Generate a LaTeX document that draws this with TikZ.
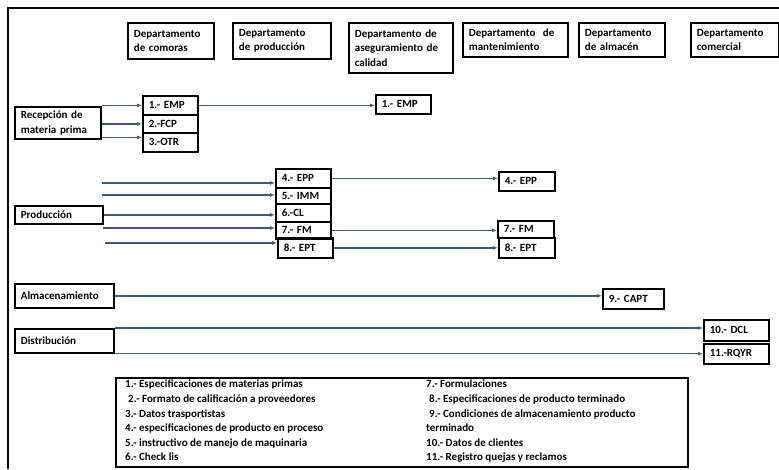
\documentclass[tikz,border=0pt]{standalone}
\usepackage{fontspec}
\setmainfont{Carlito}
\usetikzlibrary{arrows.meta,positioning}
\definecolor{flowblue}{HTML}{3D5A78}
\newcommand\boxfont{\fontsize{11}{14.5}\selectfont\bfseries}
\newcommand\legfont{\fontsize{11}{14.6}\selectfont\bfseries}

\begin{document}
\begin{tikzpicture}[x=1pt, y=-1pt, every node/.style={font=\boxfont},
    docbox/.style={draw, line width=1.7pt, anchor=north west, align=left, inner xsep=6pt, inner ysep=0pt, text width=#1},
    flow/.style={draw=flowblue, line width=1.4pt, -{Latex[length=5pt,width=4pt]}}]
    \useasboundingbox (0,0) rectangle (779,469);
    \draw[line width=1.8pt] (8,469) -- (8,8) -- (779,8);

    % departamentos
    \node[docbox=74pt, minimum height=36pt] (dcompras) at (127,22) {Departamento\\de comoras};
    \node[docbox=86pt, minimum height=36pt] (dprod) at (232,22) {Departamento\\de producción};
    \node[docbox=92pt, minimum height=50pt] (dcalidad) at (348,22) {Departamento de\\aseguramiento de\\calidad};
    \node[docbox=93pt, minimum height=34pt] (dmant) at (462,22) {Departamento~ de\\mantenimiento};
    \node[docbox=74pt, minimum height=34pt] (dalmacen) at (578,22) {Departamento\\de almacén};
    \node[docbox=76pt, minimum height=34pt] (dcomercial) at (690,22) {Departamento\\comercial};

    % procesos
    \node[docbox=74pt, minimum height=32pt] (recepcion) at (14,106) {Recepción de\\materia prima};
    \node[docbox=76pt, minimum height=18pt] (produccion) at (14,205) {Producción};
    \node[docbox=87pt, minimum height=24pt] (almacenamiento) at (14,283) {Almacenamiento};
    \node[docbox=87pt, minimum height=24pt] (distribucion) at (14,328) {Distribución};

    % documentos
    \node[docbox=43pt, minimum height=19pt] (emp) at (142,95) {1.- EMP};
    \node[docbox=43pt, minimum height=18pt] (fcp) at (142,114) {2.-FCP};
    \node[docbox=43pt, minimum height=19pt] (otr) at (142,132) {3.-OTR};
    \node[docbox=43pt, minimum height=19pt] (empq) at (375,94) {1.- EMP};

    \foreach \n/\x/\y/\h/\t in {4/275/168/19pt/{4.- EPP}, 5/275/187/16pt/{5.- IMM}, 6/275/203/18pt/{6.-CL},
        7/275/221/17pt/{7.- FM}, 8/277/237/20pt/{8.- EPT}}
        \node[docbox=43pt, minimum height=\h] (p\n) at (\x,\y) {\t};

    \node[docbox=44pt, minimum height=19pt] (epp) at (498,171) {4.- EPP};
    \node[docbox=44pt, minimum height=17pt] (fm) at (497,220) {7.- FM};
    \node[docbox=44pt, minimum height=20pt] (ept) at (498,237) {8.- EPT};
    \node[docbox=49pt, minimum height=20pt] (capt) at (602,288) {9.- CAPT};
    \node[docbox=53pt, minimum height=21pt] (dcl) at (703,319) {10.- DCL};
    \node[docbox=53pt, minimum height=20pt] (rqyr) at (703,343) {11.-RQYR};

    % leyenda
    \node[draw, line width=1.7pt, anchor=north west, minimum width=572pt, minimum height=89pt, inner sep=0pt] (leyenda) at (115,377) {};
    \node[anchor=north west, align=left, inner sep=0pt, font=\legfont] (leyizq) at (125,380) {1.- Especificaciones de materias primas\\
        \hspace*{3pt}2.- Formato de calificación a proveedores\\
        3.- Datos trasportistas\\
        4.- especificaciones de producto en proceso\\
        5.- instructivo de manejo de maquinaria\\
        6.- Check lis};
    \node[anchor=north west, align=left, inner sep=0pt, font=\legfont] (leyder) at (426,380) {7.- Formulaciones\\
        \hspace*{3pt}8.- Especificaciones de producto terminado\\
        \hspace*{3pt}9.- Condiciones de almacenamiento producto\\
        terminado\\
        10.- Datos de clientes\\
        11.- Registro quejas y reclamos};

    % flujos
    \draw[flow] (recepcion.east |- emp.west) -- (emp.west);
    \draw[flow] (recepcion.east |- fcp.west) -- (fcp.west);
    \coordinate (otrin) at ([yshift=5pt]otr.west);
    \draw[flow] (recepcion.east |- otrin) -- (otrin);
    \draw[flow] (emp.east) -- (emp.east -| empq.west);

    \foreach \n/\x/\y in {4/102/183, 5/102/195, 7/103/228, 8/105/243}{
        \coordinate (in\n) at (\x,\y);
        \draw[flow] (in\n) -- (in\n -| p\n.west);
    }
    \draw[flow] (produccion.east) -- (produccion.east -| p6.west);
    \draw[flow] (p4.east) -- (p4.east -| epp.west);
    \draw[flow] (p7.east) -- (p7.east -| fm.west);
    \draw[flow] (p8.east) -- (p8.east -| ept.west);
    \draw[flow] (almacenamiento.east) -- (almacenamiento.east -| capt.west);
    \draw[flow] (distribucion.north east) -- (distribucion.north east -| dcl.west);
    \draw[flow] (distribucion.south east) -- (distribucion.south east -| rqyr.west);
\end{tikzpicture}
\end{document}
